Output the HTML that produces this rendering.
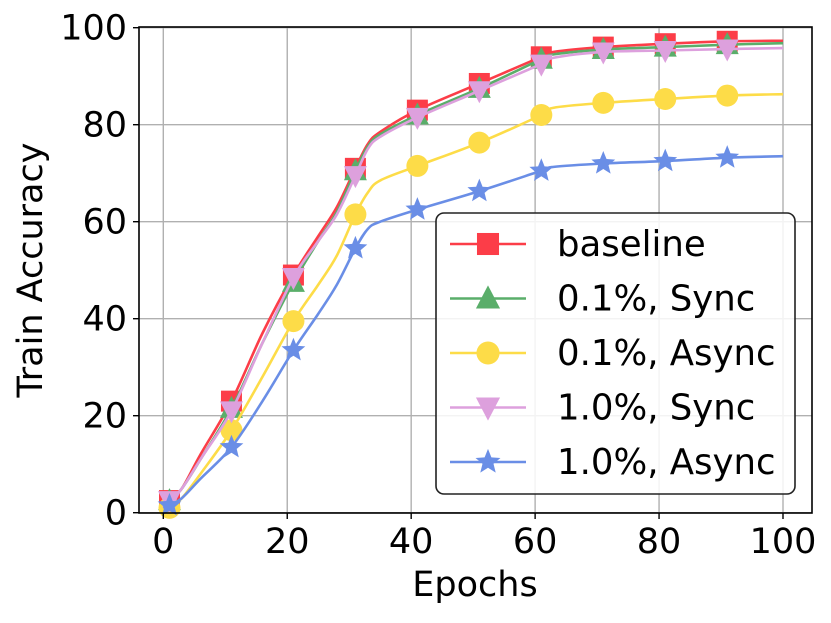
<!DOCTYPE html>
<html><head><meta charset="utf-8"><style>
body{margin:0;background:#fff}
svg text{font-family:"DejaVu Sans","Liberation Sans",sans-serif;fill:#000}
</style></head><body>
<svg id="chart" width="831" height="618" viewBox="0 0 831 618" xmlns="http://www.w3.org/2000/svg">
<g id="grid"></g>
<g id="series"></g>
<rect x="139" y="27" width="673" height="486" fill="none" stroke="#000" stroke-width="1.6"/>
<g id="ticks"></g>
<text x="475" y="596" font-size="35" text-anchor="middle">Epochs</text>
<text transform="translate(42,270) rotate(-90)" font-size="35" text-anchor="middle">Train Accuracy</text>
<g id="legend"></g>
</svg>
<script>
const xTicks=[0,20,40,60,80,100];
const yTicks=[0,20,40,60,80,100];
const seriesNames=["baseline","0.1%, Sync","0.1%, Async","1.0%, Sync","1.0%, Async"];
const seriesColors=["#fc3d48","#5aae6a","#fddc48","#dda0dd","#6a8ee6"];
const seriesMarkers=["square","triangle","circle","tridown","star"];
const epochs=[0,1,3,6,11,16,21,25,28,31,33,35,41,51,61,63,71,81,91,100];
const markerEpochs=[1,11,21,31,41,51,61,71,81,91];
const baselineVals=[1,2.5,5,12,23,37,49,57,63,71,76,78.5,83,88.5,94,95,96,96.7,97.2,97.3];
const sync01Vals=[1,2.5,5,11,21.5,35,47.5,56,62,70.5,75.5,78,82,87.5,93.5,94.5,95.5,96,96.5,96.8];
const async01Vals=[0.5,1,3,8,17,28,39.5,47,53,61.5,66,68.5,71.5,76.3,82,83.5,84.5,85.3,86,86.3];
const sync10Vals=[1,2.5,5,11,21,35,48.5,56,61.5,69.5,75,77.5,81.5,87,92.5,93.8,95,95.3,95.6,95.8];
const async10Vals=[1,1.5,3,7,13.5,23,33.5,41,47,54.5,58.5,60,62.5,66.3,70.5,71.3,72,72.5,73.2,73.5];
const allVals=[baselineVals,sync01Vals,async01Vals,sync10Vals,async10Vals];

const X0=139,X1=812,Y0=513,Y1=27;
const sx=v=>163.3+v*6.197;
const sy=v=>512.7-v*4.85;
const NS="http://www.w3.org/2000/svg";
function mk(tag,attrs,parent){const e=document.createElementNS(NS,tag);for(const k in attrs)e.setAttribute(k,attrs[k]);parent.appendChild(e);return e;}
const grid=document.getElementById('grid'),ticks=document.getElementById('ticks');
xTicks.forEach(t=>{
 const l=mk('line',{x1:sx(t),x2:sx(t),y1:Y1,y2:Y0,stroke:'#b0b0b0','stroke-width':1.4},grid);
 
 
 const tk=mk('line',{x1:sx(t),x2:sx(t),y1:Y0,y2:Y0+6,stroke:'#000','stroke-width':1.4},ticks);
 
 
 const tx=mk('text',{x:sx(t),y:553,'font-size':35,'text-anchor':'middle'},ticks);tx.textContent=t;
 
 
});
yTicks.forEach(t=>{
 const l=mk('line',{x1:X0,x2:X1,y1:sy(t),y2:sy(t),stroke:'#b0b0b0','stroke-width':1.4},grid);
 
 
 const tk=mk('line',{x1:X0-6,x2:X0,y1:sy(t),y2:sy(t),stroke:'#000','stroke-width':1.4},ticks);
 
 
 const tx=mk('text',{x:X0-12,y:sy(t)+12,'font-size':35,'text-anchor':'end'},ticks);tx.textContent=t;
 
 
});
function pathD(pts){
 let d=`M${pts[0][0]},${pts[0][1]}`;
 for(let i=0;i<pts.length-1;i++){
  const p0=pts[Math.max(0,i-1)],p1=pts[i],p2=pts[i+1],p3=pts[Math.min(pts.length-1,i+2)];
  const c1=[p1[0]+(p2[0]-p0[0])/6,p1[1]+(p2[1]-p0[1])/6];
  const c2=[p2[0]-(p3[0]-p1[0])/6,p2[1]-(p3[1]-p1[1])/6];
  d+=`C${c1[0]},${c1[1]} ${c2[0]},${c2[1]} ${p2[0]},${p2[1]}`;
 }
 return d;
}
function marker(type,x,y,c,parent,s){
 s=s||1;let e;
 if(type==='square')e=mk('rect',{x:x-10.5*s,y:y-10.5*s,width:21*s,height:21*s,fill:c},parent);
 else if(type==='circle')e=mk('circle',{cx:x,cy:y,r:11*s,fill:c},parent);
 else if(type==='triangle')e=mk('polygon',{points:`${x},${y-12.5*s} ${x+11.5*s},${y+9.5*s} ${x-11.5*s},${y+9.5*s}`,fill:c},parent);
 else if(type==='tridown')e=mk('polygon',{points:`${x},${y+12.5*s} ${x+11.5*s},${y-9.5*s} ${x-11.5*s},${y-9.5*s}`,fill:c},parent);
 else{let p=[];for(let i=0;i<10;i++){const r=i%2?5.5*s:12.5*s,a=-Math.PI/2+i*Math.PI/5;p.push(`${x+r*Math.cos(a)},${y+r*Math.sin(a)}`);}e=mk('polygon',{points:p.join(' '),fill:c},parent);}
 return e;
}
const sg=document.getElementById('series');
allVals.forEach((vals,si)=>{
 const g=mk('g',{},sg);
 
 
 const pts=epochs.map((e,i)=>[sx(e),sy(vals[i])]);
 const p=mk('path',{d:pathD(pts),fill:'none',stroke:seriesColors[si],'stroke-width':2.6},g);
 
 
 markerEpochs.forEach(me=>{
  const i=epochs.indexOf(me);
  const m=marker(seriesMarkers[si],sx(me),sy(vals[i]),seriesColors[si],g);
  
  
 });
});
const lg=document.getElementById('legend');
const box=mk('rect',{x:436,y:213,width:359,height:281,rx:8,fill:'rgba(255,255,255,0.85)',stroke:'#222','stroke-width':1.6},lg);


seriesNames.forEach((n,i)=>{
 const y=244+i*54.5;
 const g=mk('g',{},lg);
 
 
 mk('line',{x1:450,x2:526,y1:y,y2:y,stroke:seriesColors[i],'stroke-width':2.6},g);
 marker(seriesMarkers[i],488,y,seriesColors[i],g,1.05);
 const t=mk('text',{x:557,y:y+12,'font-size':35.5},g);t.textContent=n;
});
</script>
</body></html>
